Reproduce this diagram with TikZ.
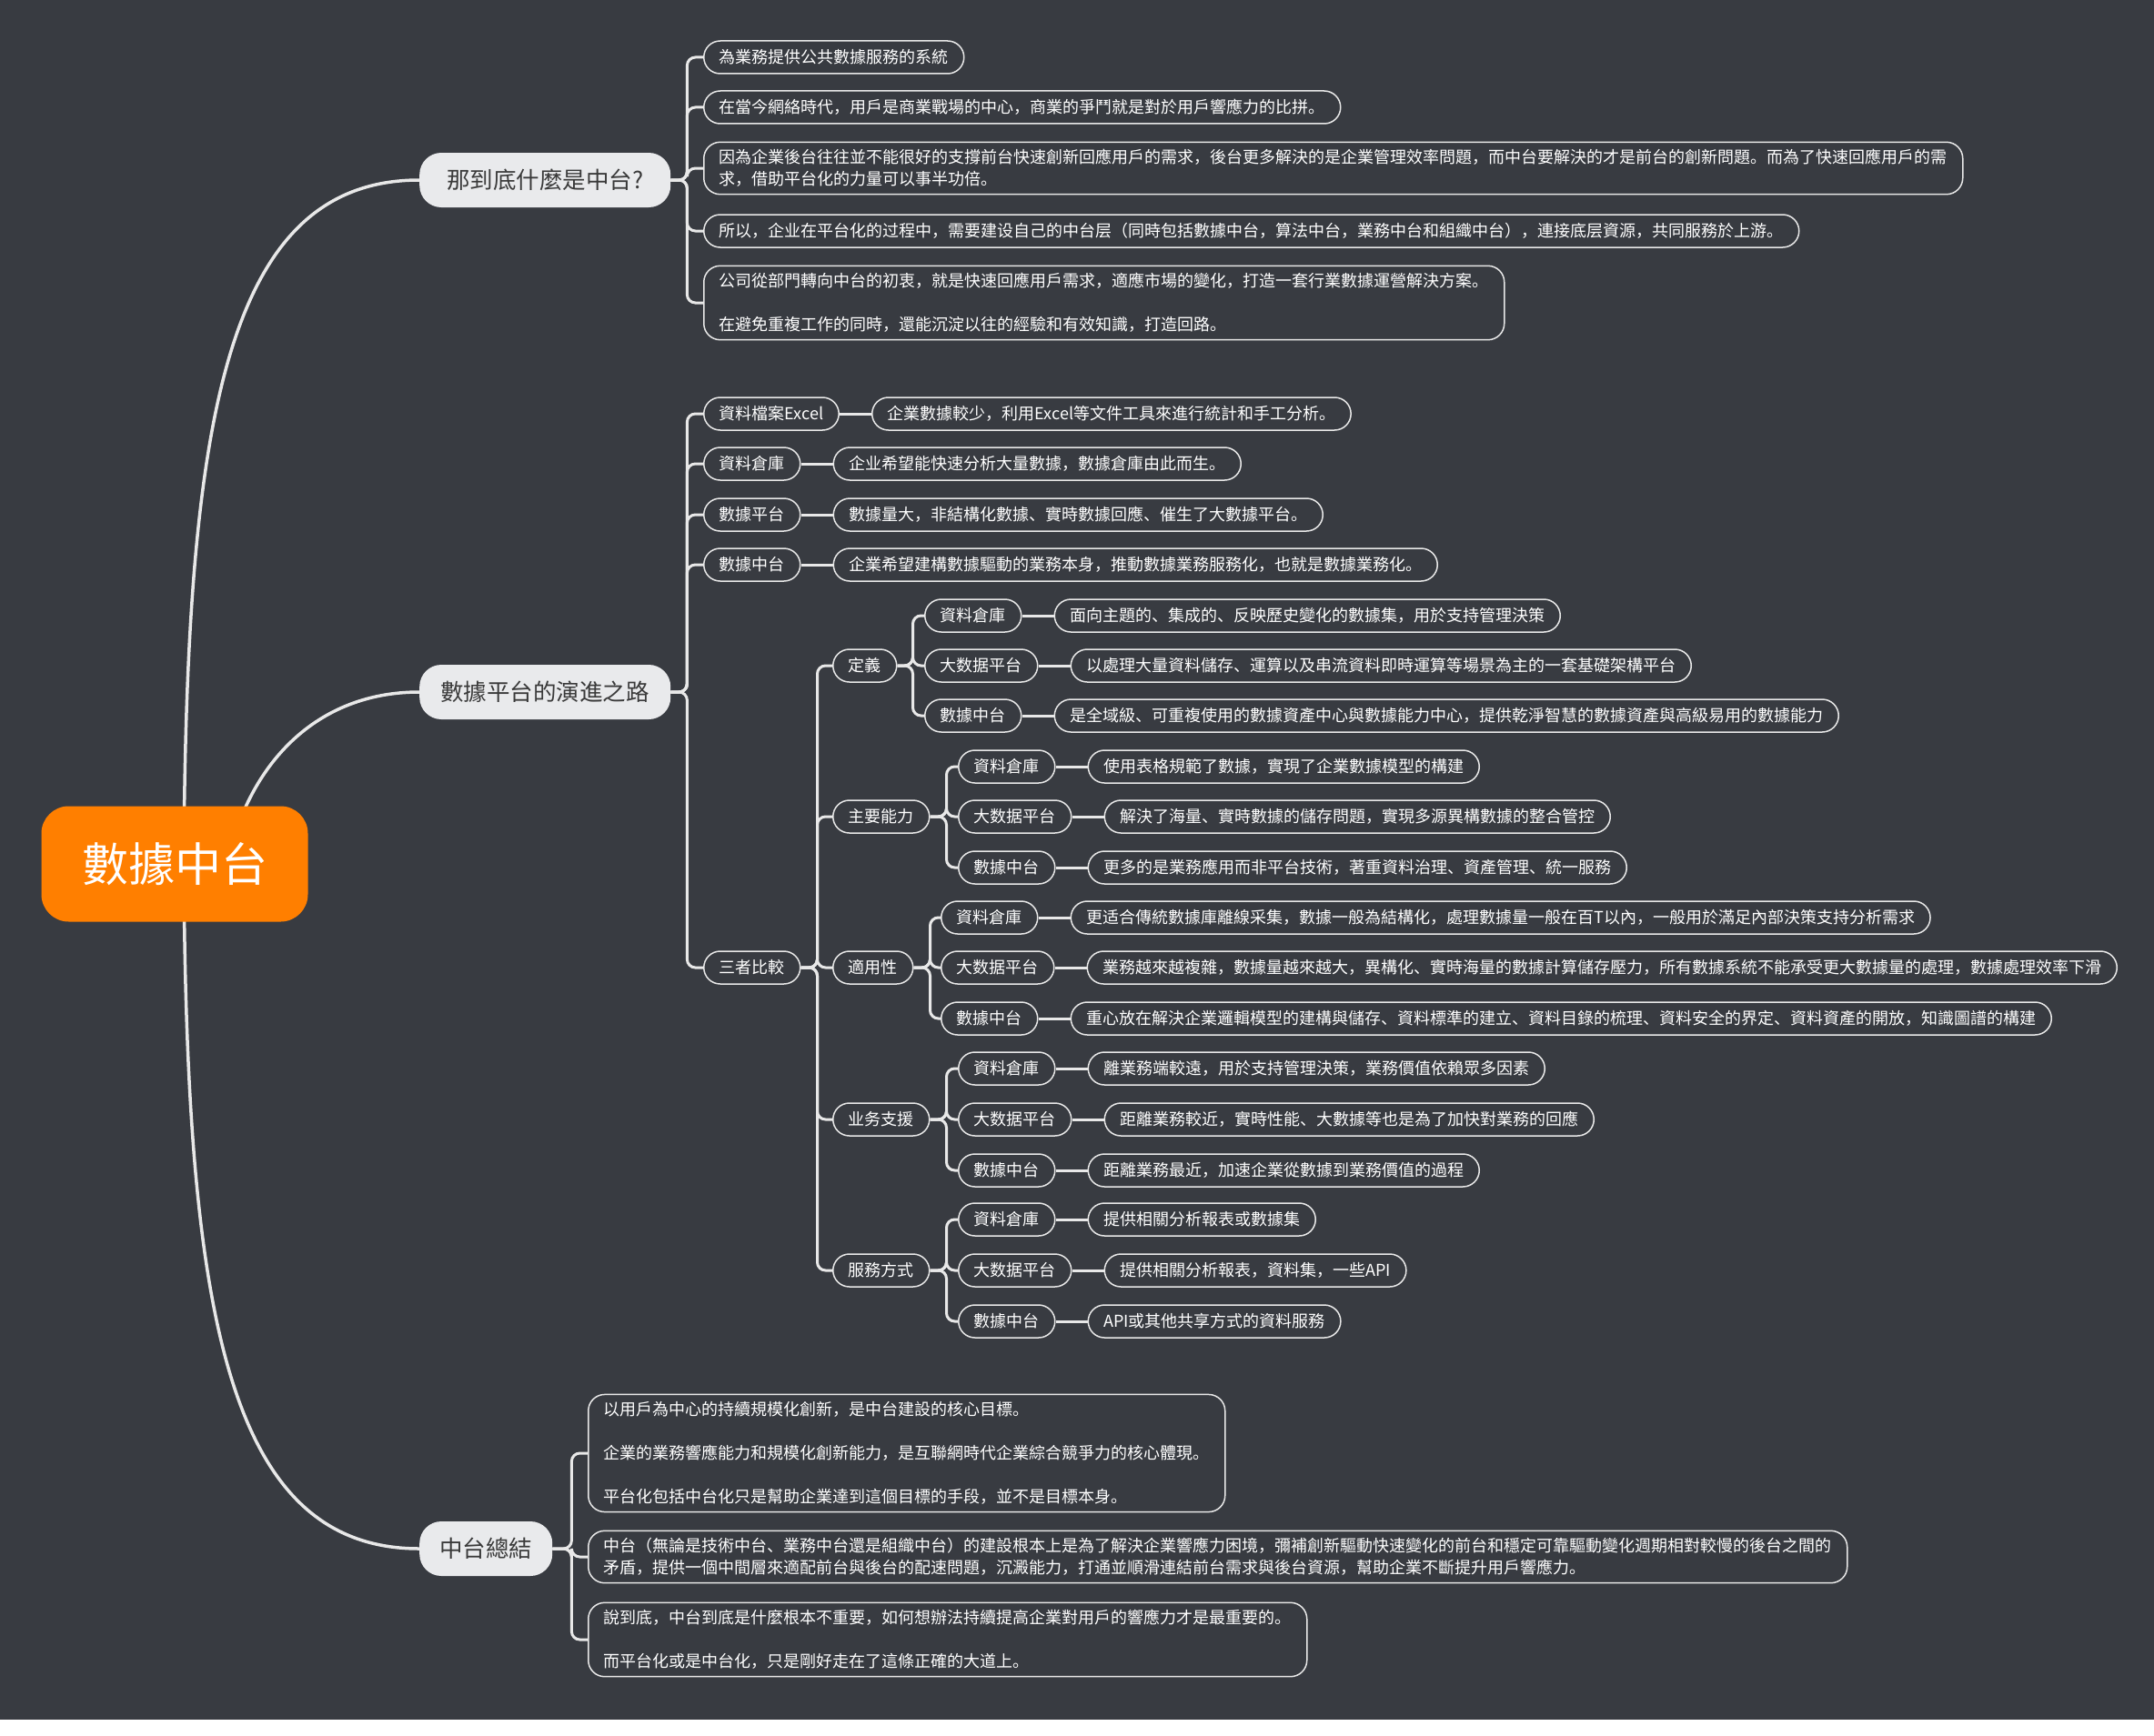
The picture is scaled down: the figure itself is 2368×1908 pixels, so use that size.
\documentclass[tikz,border=0pt]{standalone}
\usepackage{fontspec}
\usetikzlibrary{positioning}
\newfontfamily\cjk{Noto Sans CJK SC}
\definecolor{bgc}{HTML}{383B41}
\definecolor{rootc}{HTML}{FF7F00}
\definecolor{lone}{HTML}{E9EAEC}
\definecolor{linec}{HTML}{E8E8E8}
\definecolor{txtdark}{HTML}{3A3A3A}
\pgfdeclarelayer{bglayer}
\pgfdeclarelayer{curvelayer}
\pgfsetlayers{bglayer,curvelayer,main}
\tikzset{
  conn/.style={draw=linec, line width=3pt, rounded corners=9pt},
  maincurve/.style={draw=linec, line width=3.5pt},
  rootnode/.style={fill=rootc, rounded corners=30pt, minimum width=293pt, minimum height=127pt, text=white, font=\cjk\fontsize{51}{60}\selectfont, inner sep=0pt},
  topic/.style={fill=lone, rounded corners=24pt, minimum height=60pt, inner xsep=22pt, inner ysep=0pt, text=txtdark, font=\cjk\fontsize{25.5}{30}\selectfont, anchor=west},
  pill/.style={draw=linec, line width=1.5pt, fill=bgc, rounded corners=18pt, minimum height=36pt, inner xsep=17pt, inner ysep=8pt, text=white, font=\cjk\fontsize{18}{24}\selectfont, align=left, anchor=west},
}
\begin{document}
\begin{tikzpicture}[x=1pt,y=-1pt]
\begin{pgfonlayer}{bglayer}
\fill[bgc] (0,0) rectangle (2368,1891);
\fill[white] (0,1891) rectangle (2368,1908);
\end{pgfonlayer}
\useasboundingbox (0,0) rectangle (2368,1908);

% root
\node[rootnode] (root) at (192,950) {數據中台};
\coordinate (rootup) at (202,950);
\coordinate (rootmid) at (250,950);

% level 1
\node[topic, minimum width=276pt] (t1) at (461,198) {那到底什麼是中台?};
\node[topic, minimum width=276pt] (t2) at (461,761) {數據平台的演進之路};
\node[topic] (t3) at (461,1703) {中台總結};

\begin{pgfonlayer}{curvelayer}
\draw[maincurve] (rootup) .. controls (205,470) and (245,198) .. (t1.west);
\draw[maincurve] (rootmid) .. controls (270,850) and (340,761) .. (t2.west);
\draw[maincurve] (rootup) .. controls (205,1430) and (245,1703) .. (t3.west);
\end{pgfonlayer}

% branch 1
\node[pill] (a1) at (773,63) {為業務提供公共數據服務的系統};
\node[pill] (a2) at (773,118) {在當今網絡時代，用戶是商業戰場的中心，商業的爭鬥就是對於用戶響應力的比拼。};
\node[pill] (a3) at (773,185) {因為企業後台往往並不能很好的支撐前台快速創新回應用戶的需求，後台更多解決的是企業管理效率問題，而中台要解決的才是前台的創新問題。而為了快速回應用戶的需\\求，借助平台化的力量可以事半功倍。};
\node[pill] (a4) at (773,254) {所以，企业在平台化的过程中，需要建设自己的中台层（同時包括數據中台，算法中台，業務中台和組織中台），連接底层資源，共同服務於上游。};
\node[pill] (a5) at (773,333) {公司從部門轉向中台的初衷，就是快速回應用戶需求，適應市場的變化，打造一套行業數據運營解決方案。\\\mbox{}\\在避免重複工作的同時，還能沉淀以往的經驗和有效知識，打造回路。};
\foreach \c in {a1,a2,a3,a4,a5} \draw[conn] (t1.east) -- ++(18,0) |- (\c.west);

% branch 2
\node[pill] (e1) at (773,455) {資料檔案Excel};
\node[pill] (e2) at (773,510) {資料倉庫};
\node[pill] (e3) at (773,566) {數據平台};
\node[pill] (e4) at (773,621) {數據中台};
\node[pill] (e5) at (773,1064) {三者比較};
\node[pill, right=35pt of e1] (e1d) {企業數據較少，利用Excel等文件工具來進行統計和手工分析。};
\node[pill, right=35pt of e2] (e2d) {企业希望能快速分析大量數據，數據倉庫由此而生。};
\node[pill, right=35pt of e3] (e3d) {數據量大，非結構化數據、實時數據回應、催生了大數據平台。};
\node[pill, right=35pt of e4] (e4d) {企業希望建構數據驅動的業務本身，推動數據業務服務化，也就是數據業務化。};
\foreach \c in {e1,e2,e3,e4,e5} \draw[conn] (t2.east) -- ++(18,0) |- (\c.west);
\foreach \c in {e1,e2,e3,e4} \draw[conn] (\c.east) -- (\c d.west);

% 三者比較
\node[pill] (f1) at (915,732) {定義};
\node[pill] (f2) at (915,898) {主要能力};
\node[pill] (f3) at (915,1064) {適用性};
\node[pill] (f4) at (915,1231) {业务支援};
\node[pill] (f5) at (915,1397) {服務方式};
\foreach \c in {f1,f2,f3,f4,f5} \draw[conn] (e5.east) -- ++(18,0) |- (\c.west);

% 定義
\node[pill] (g1) at (1016,677) {資料倉庫};
\node[pill] (g2) at (1016,732) {大数据平台};
\node[pill] (g3) at (1016,787) {數據中台};
\node[pill, right=35pt of g1] (g1d) {面向主題的、集成的、反映歷史變化的數據集，用於支持管理決策};
\node[pill, right=35pt of g2] (g2d) {以處理大量資料儲存、運算以及串流資料即時運算等場景為主的一套基礎架構平台};
\node[pill, right=35pt of g3] (g3d) {是全域級、可重複使用的數據資產中心與數據能力中心，提供乾淨智慧的數據資產與高級易用的數據能力};
\foreach \c in {g1,g2,g3} {\draw[conn] (f1.east) -- ++(17,0) |- (\c.west); \draw[conn] (\c.east) -- (\c d.west);}

% 主要能力
\node[pill] (h1) at (1053,843) {資料倉庫};
\node[pill] (h2) at (1053,898) {大数据平台};
\node[pill] (h3) at (1053,954) {數據中台};
\node[pill, right=35pt of h1] (h1d) {使用表格規範了數據，實現了企業數據模型的構建};
\node[pill, right=35pt of h2] (h2d) {解決了海量、實時數據的儲存問題，實現多源異構數據的整合管控};
\node[pill, right=35pt of h3] (h3d) {更多的是業務應用而非平台技術，著重資料治理、資產管理、統一服務};
\foreach \c in {h1,h2,h3} {\draw[conn] (f2.east) -- ++(18,0) |- (\c.west); \draw[conn] (\c.east) -- (\c d.west);}

% 適用性
\node[pill] (i1) at (1034,1009) {資料倉庫};
\node[pill] (i2) at (1034,1064) {大数据平台};
\node[pill] (i3) at (1034,1120) {數據中台};
\node[pill, right=35pt of i1] (i1d) {更适合傳統數據庫離線采集，數據一般為結構化，處理數據量一般在百T以內，一般用於滿足內部決策支持分析需求};
\node[pill, right=35pt of i2] (i2d) {業務越來越複雜，數據量越來越大，異構化、實時海量的數據計算儲存壓力，所有數據系統不能承受更大數據量的處理，數據處理效率下滑};
\node[pill, right=35pt of i3] (i3d) {重心放在解決企業邏輯模型的建構與儲存、資料標準的建立、資料目錄的梳理、資料安全的界定、資料資產的開放，知識圖譜的構建};
\foreach \c in {i1,i2,i3} {\draw[conn] (f3.east) -- ++(18,0) |- (\c.west); \draw[conn] (\c.east) -- (\c d.west);}

% 业务支援
\node[pill] (j1) at (1053,1175) {資料倉庫};
\node[pill] (j2) at (1053,1231) {大数据平台};
\node[pill] (j3) at (1053,1287) {數據中台};
\node[pill, right=35pt of j1] (j1d) {離業務端較遠，用於支持管理決策，業務價值依賴眾多因素};
\node[pill, right=35pt of j2] (j2d) {距離業務較近，實時性能、大數據等也是為了加快對業務的回應};
\node[pill, right=35pt of j3] (j3d) {距離業務最近，加速企業從數據到業務價值的過程};
\foreach \c in {j1,j2,j3} {\draw[conn] (f4.east) -- ++(18,0) |- (\c.west); \draw[conn] (\c.east) -- (\c d.west);}

% 服務方式
\node[pill] (k1) at (1053,1341) {資料倉庫};
\node[pill] (k2) at (1053,1397) {大数据平台};
\node[pill] (k3) at (1053,1453) {數據中台};
\node[pill, right=35pt of k1] (k1d) {提供相關分析報表或數據集};
\node[pill, right=35pt of k2] (k2d) {提供相關分析報表，資料集，一些API};
\node[pill, right=35pt of k3] (k3d) {API或其他共享方式的資料服務};
\foreach \c in {k1,k2,k3} {\draw[conn] (f5.east) -- ++(18,0) |- (\c.west); \draw[conn] (\c.east) -- (\c d.west);}

% branch 3
\node[pill] (m1) at (646,1598) {以用戶為中心的持續規模化創新，是中台建設的核心目標。\\\mbox{}\\企業的業務響應能力和規模化創新能力，是互聯網時代企業綜合競爭力的核心體現。\\\mbox{}\\平台化包括中台化只是幫助企業達到這個目標的手段，並不是目標本身。};
\node[pill] (m2) at (646,1712) {中台（無論是技術中台、業務中台還是組織中台）的建設根本上是為了解決企業響應力困境，彌補創新驅動快速變化的前台和穩定可靠驅動變化週期相對較慢的後台之間的\\矛盾，提供一個中間層來適配前台與後台的配速問題，沉澱能力，打通並順滑連結前台需求與後台資源，幫助企業不斷提升用戶響應力。};
\node[pill] (m3) at (646,1803) {說到底，中台到底是什麼根本不重要，如何想辦法持續提高企業對用戶的響應力才是最重要的。\\\mbox{}\\而平台化或是中台化，只是剛好走在了這條正確的大道上。};
\foreach \c in {m1,m2,m3} \draw[conn] (t3.east) -- ++(21,0) |- (\c.west);
\end{tikzpicture}
\end{document}
